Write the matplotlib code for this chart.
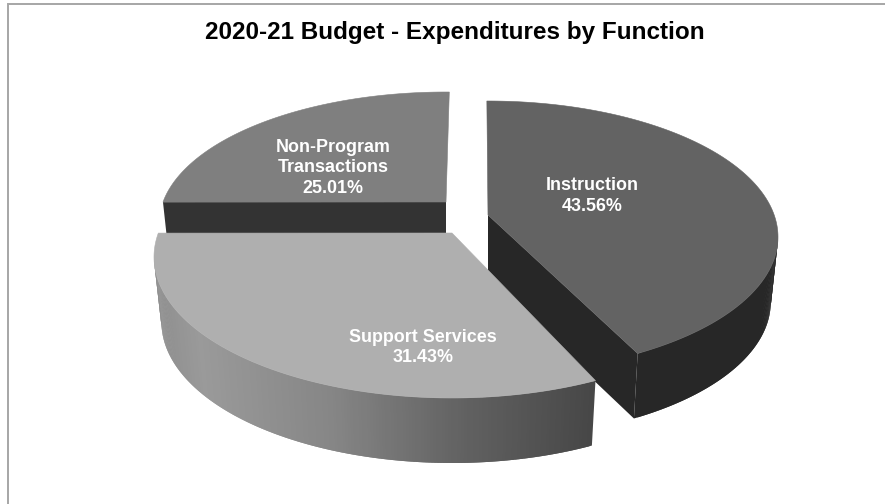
import numpy as np
import matplotlib
matplotlib.use("Agg")
import matplotlib.pyplot as plt
from matplotlib.patches import Polygon
from matplotlib.colors import LinearSegmentedColormap

plt.rcParams['font.family'] = ['Liberation Sans', 'DejaVu Sans']

categories = ['Instruction', 'Support Services', 'Non-Program\nTransactions']
shares = [43.56, 31.43, 25.01]

top_colors = ['#636363', '#afafaf', '#7f7f7f']
wall_colors = ['#272727', None, '#333333']

# each slice sits on its own ellipse: apex x/y, centre y, half width, half height, stretch, skew
slice_geom = [
    (488, 215, 237, 290, 136, 2.50, -0.004),
    (452, 233, 257, 298, 141, 2.27, 0.0),
    (446, 202, 224, 287, 132, 2.50, 0.012),
]
# which cut edge faces the viewer on each slice
front_cut = [-1, None, 0]
wall_depth = 65
lower_shrink = 0.975
label_xy = [(592, 196), (423, 347.5), (333, 168)]

side_shade = LinearSegmentedColormap.from_list(
    'side', [(0, '#8f8f8f'), (0.1, '#9a9a9a'), (0.4, '#868686'), (0.7, '#626262'), (1, '#474747')])


def rim_point(geom, deg):
    # walk from the apex along the slice angle until the ellipse is hit
    ax_, ay_, ey, A, B, k, skew = geom
    t = np.radians(deg)
    dx = k * np.sin(t) + skew * k * np.cos(t)
    dy = -np.cos(t)
    off = ay_ - ey
    qa = (dx / A) ** 2 + (dy / B) ** 2
    qb = 2 * off * dy / B ** 2
    qc = (off / B) ** 2 - 1
    r = (-qb + np.sqrt(qb ** 2 - 4 * qa * qc)) / (2 * qa)
    return ax_ + r * dx, ay_ + r * dy


def lower(geom, x, y):
    return geom[0] + (x - geom[0]) * lower_shrink, y + wall_depth


fig = plt.figure(figsize=(8.85, 5.04), dpi=100, facecolor='white')
ax = fig.add_axes([0, 0, 1, 1])
ax.set_xlim(0, 885)
ax.set_ylim(504, 0)
ax.axis('off')

# only the top and left of the chart frame fall inside the image
ax.plot([8, 8, 885], [504, 4, 4], color='#a6a6a6', lw=1.4, solid_joinstyle='miter', zorder=0)

bounds = np.concatenate([[0], np.cumsum(shares)]) / sum(shares) * 360

# back slice first, the front ones overlap it
for i, z in [(2, 2), (0, 4), (1, 6)]:
    geom = slice_geom[i]
    apex = (geom[0], geom[1])
    tx, ty = rim_point(geom, np.linspace(bounds[i], bounds[i + 1], 240))
    bx, by = lower(geom, tx, ty)
    low_apex = lower(geom, *apex)

    # rim wall, only the part of the rim facing front; strips overlap so no seams show
    for k in range(len(tx) - 2):
        if ty[k] < geom[2] and ty[k + 2] < geom[2]:
            continue
        col = wall_colors[i]
        if col is None:
            col = side_shade(np.clip((tx[k] - 155) / (596 - 155), 0, 1))
        ax.add_patch(Polygon([(tx[k], ty[k]), (tx[k + 2], ty[k + 2]),
                              (bx[k + 2], by[k + 2]), (bx[k], by[k])],
                             fc=col, ec='none', zorder=z))

    # cut face towards the viewer
    e = front_cut[i]
    if e is not None:
        ax.add_patch(Polygon([apex, (tx[e], ty[e]), (bx[e], by[e]), low_apex],
                             fc=wall_colors[i], ec='none', zorder=z))

    # top face
    ax.add_patch(Polygon(np.vstack([apex, np.column_stack([tx, ty])]),
                         fc=top_colors[i], ec=top_colors[i], lw=0.4, zorder=z + 1))

for name, val, (lx, ly) in zip(categories, shares, label_xy):
    ax.text(lx, ly, f'{name}\n{val:.2f}%', color='white', fontsize=12.9, fontweight='bold',
            ha='center', va='center', linespacing=1.3, zorder=10)

ax.text(455, 32.5, '2020-21 Budget - Expenditures by Function', color='black', fontsize=17.5,
        fontweight='bold', ha='center', va='center', zorder=10)

fig.savefig('out.png', dpi=100, facecolor='white')
